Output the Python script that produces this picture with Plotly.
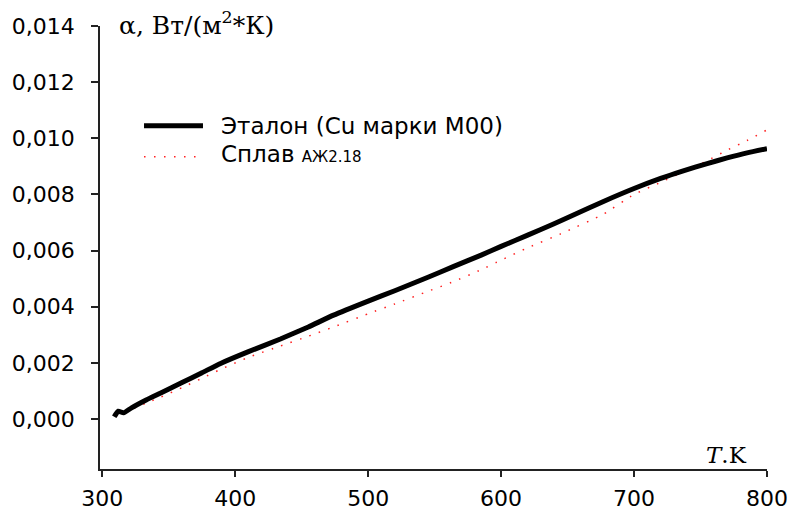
import plotly.graph_objects as go

# Эталон (Cu марки M00)
t_ref = [309, 312, 316, 322, 333, 344, 360, 375, 389, 410, 434, 455, 474, 500, 520,
         545, 564, 585, 600, 620, 639, 654, 677, 700, 720, 737, 755, 770, 785, 800]
a_ref = [0.00008, 0.00028, 0.00022, 0.00040, 0.00068, 0.00093, 0.00130, 0.00165, 0.00198,
         0.00240, 0.00285, 0.00328, 0.00370, 0.00420, 0.00457, 0.00505, 0.00543, 0.00584,
         0.00615, 0.00655, 0.00694, 0.00726, 0.00775, 0.00821, 0.00857, 0.00884, 0.00910,
         0.00930, 0.00948, 0.00963]

# Сплав АЖ2.18
t_alloy = [310, 320, 333, 344, 360, 375, 389, 410, 434, 455, 474, 500, 520, 545, 564,
           585, 600, 620, 645, 677, 700, 720, 737, 755, 770, 785, 800]
a_alloy = [0.00010, 0.00030, 0.00057, 0.00078, 0.00112, 0.00145, 0.00177, 0.00220, 0.00260,
           0.00295, 0.00328, 0.00375, 0.00410, 0.00455, 0.00489, 0.00532, 0.00566, 0.00610,
           0.00660, 0.00730, 0.00800, 0.00843, 0.00880, 0.00920, 0.00958, 0.00992, 0.01030]

x_ticks = [300, 400, 500, 600, 700, 800]
y_ticks = [0.000, 0.002, 0.004, 0.006, 0.008, 0.010, 0.012, 0.014]

name_ref = "Эталон (Cu марки M00)"
name_alloy = "Сплав <span style='font-size:15px'>АЖ2.18</span>"

SANS = "DejaVu Sans, sans-serif"
SERIF = "DejaVu Serif, serif"
RED = "#ff2020"

fig = go.Figure()
fig.add_trace(go.Scatter(x=t_alloy, y=a_alloy, mode="lines", name=name_alloy,
                         line=dict(color=RED, width=1.5, dash="1.5px,8.5px",
                                   shape="spline", smoothing=0.5),
                         showlegend=False))
fig.add_trace(go.Scatter(x=t_ref, y=a_ref, mode="lines", name=name_ref,
                         line=dict(color="black", width=5, shape="spline", smoothing=0.5),
                         showlegend=False))

# legend drawn by hand to match the reference sample lengths
fig.add_shape(type="line", xref="paper", yref="paper", x0=0.066, x1=0.1544, y0=0.775, y1=0.775,
              line=dict(color="black", width=5))
fig.add_shape(type="line", xref="paper", yref="paper", x0=0.066, x1=0.147, y0=0.705, y1=0.705,
              line=dict(color=RED, width=1.5, dash="1.5px,8.5px"))
fig.add_annotation(xref="paper", yref="paper", x=0.1784, y=0.774, xanchor="left", yanchor="middle",
                   text=name_ref, showarrow=False, font=dict(family=SANS, size=23, color="black"))
fig.add_annotation(xref="paper", yref="paper", x=0.1784, y=0.712, xanchor="left", yanchor="middle",
                   text=name_alloy, showarrow=False, font=dict(family=SANS, size=23, color="black"))

# axis titles
fig.add_annotation(xref="paper", yref="paper", x=0.0255, y=1.005, xanchor="left", yanchor="middle",
                   text="α, Вт/(м<sup>2</sup>*К)", showarrow=False,
                   font=dict(family=SERIF, size=25, color="black"))
fig.add_annotation(xref="paper", yref="paper", x=0.94, y=0.032, xanchor="center", yanchor="middle",
                   text="<i>T</i>.K", showarrow=False,
                   font=dict(family=SERIF, size=23, color="black"))

fig.update_layout(
    width=791, height=515,
    margin=dict(l=100, r=24, t=26, b=46, autoexpand=False),
    paper_bgcolor="white", plot_bgcolor="white",
    separators=", ",
    showlegend=False,
)
fig.update_xaxes(range=[298.3, 800], tickvals=x_ticks, showgrid=False, zeroline=False,
                 automargin=False,
                 showline=True, linecolor="#222", linewidth=1.5,
                 ticks="outside", ticklen=6, tickcolor="#222", tickwidth=1.5,
                 ticklabelstandoff=3,
                 tickfont=dict(family=SANS, size=22, color="black"))
fig.update_yaxes(range=[-0.00178, 0.014], tickvals=y_ticks, tickformat=".3f",
                 showgrid=False, zeroline=False,
                 automargin=False,
                 showline=True, linecolor="#222", linewidth=1.5,
                 ticks="outside", ticklen=7, tickcolor="#222", tickwidth=1.5,
                 ticklabelstandoff=12,
                 tickfont=dict(family=SANS, size=22, color="black"))

css = "margin:0;padding:0;overflow:hidden;"
fig.write_html("out.html", config={"displayModeBar": False},
               post_script=("document.documentElement.style.cssText='" + css + "';"
                            "document.body.style.cssText='" + css + "';"))
